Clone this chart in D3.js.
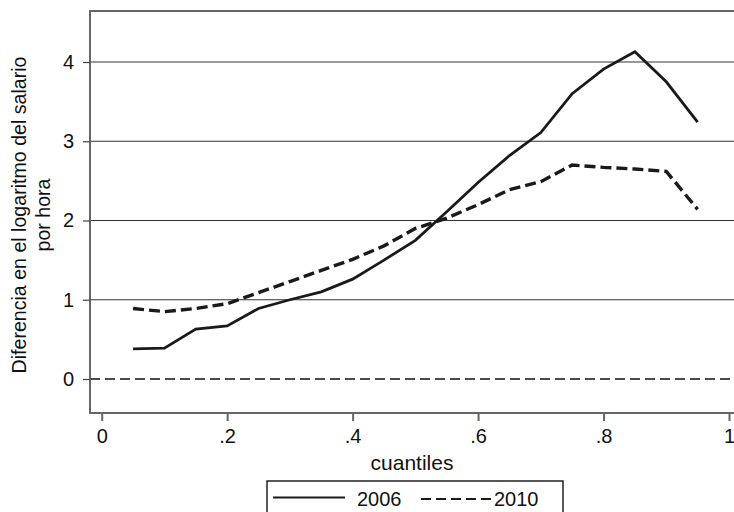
<!DOCTYPE html>
<html>
<head>
<meta charset="utf-8">
<script src="https://cdn.jsdelivr.net/npm/d3@7"></script>
<style>
  html, body { margin: 0; padding: 0; background: #fff; }
  svg { display: block; }
  text { font-family: "Liberation Sans", Arial, Helvetica, sans-serif; fill: #111; }
</style>
</head>
<body>
<svg id="chart" width="734" height="512"></svg>
<script>
// Quantiles on the horizontal axis
const quantiles = [0.05, 0.10, 0.15, 0.20, 0.25, 0.30, 0.35, 0.40, 0.45, 0.50,
                   0.55, 0.60, 0.65, 0.70, 0.75, 0.80, 0.85, 0.90, 0.95];
// Difference in log hourly wage, by year
const diff2006 = [0.38, 0.39, 0.63, 0.67, 0.89, 1.00, 1.10, 1.26, 1.50, 1.75,
                  2.11, 2.48, 2.82, 3.11, 3.60, 3.91, 4.13, 3.75, 3.24];
const diff2010 = [0.89, 0.85, 0.89, 0.95, 1.09, 1.23, 1.37, 1.51, 1.68, 1.90,
                  2.03, 2.20, 2.39, 2.49, 2.70, 2.67, 2.65, 2.62, 2.14];
const xTicks = [0, 0.2, 0.4, 0.6, 0.8, 1];
const xTickLabels = ["0", ".2", ".4", ".6", ".8", "1"];
const yTicks = [0, 1, 2, 3, 4];
const yLabelLines = ["Diferencia en el logaritmo del salario", "por hora"];
const xLabel = "cuantiles";
const legendLabels = ["2006", "2010"];

const svg = d3.select("#chart");

const frame = { left: 90, top: 11, right: 745, bottom: 413 };
const x = d3.scaleLinear().domain([0, 1]).range([101.7, 729]);
const y = d3.scaleLinear().domain([0, 4]).range([379, 62]);

// Horizontal grid lines
svg.append("g")
  .selectAll("line")
  .data(yTicks.filter(d => d !== 0))
  .join("line")
  .attr("x1", frame.left).attr("x2", frame.right)
  .attr("y1", d => y(d)).attr("y2", d => y(d))
  .attr("stroke", "#333").attr("stroke-width", 1.2);

// Zero reference line
svg.append("line")
  .attr("x1", frame.left).attr("x2", frame.right)
  .attr("y1", y(0)).attr("y2", y(0))
  .attr("stroke", "#111").attr("stroke-width", 1.3)
  .attr("stroke-dasharray", "10,5");

// Plot frame (top edge, left axis, bottom axis)
svg.append("path")
  .attr("d", `M${frame.right},${frame.top}H${frame.left}V${frame.bottom}H${frame.right}`)
  .attr("fill", "none").attr("stroke", "#666").attr("stroke-width", 2);

// Y axis
const yAxis = svg.append("g")
  .attr("transform", `translate(${frame.left},0)`)
  .call(d3.axisLeft(y).tickValues(yTicks).tickFormat(d3.format("d")).tickSize(7).tickPadding(9));
yAxis.select(".domain").remove();
yAxis.selectAll(".tick line").attr("stroke", "#444").attr("stroke-width", 1.2);
yAxis.selectAll(".tick text")
  .attr("font-size", 20).attr("font-family", "Liberation Sans, Arial, sans-serif")
  .attr("fill", "#111");

// X axis
const xAxis = svg.append("g")
  .attr("transform", `translate(0,${frame.bottom + 1})`)
  .call(d3.axisBottom(x).tickValues(xTicks).tickFormat((d, i) => xTickLabels[i]).tickSize(7).tickPadding(8));
xAxis.select(".domain").remove();
xAxis.selectAll(".tick line").attr("stroke", "#666").attr("stroke-width", 2);
xAxis.selectAll(".tick text")
  .attr("font-size", 20).attr("font-family", "Liberation Sans, Arial, sans-serif")
  .attr("fill", "#111");

// Axis titles
svg.append("text")
  .attr("x", 412).attr("y", 470)
  .attr("text-anchor", "middle").attr("font-size", 21)
  .text(xLabel);

const yTitle = svg.append("text")
  .attr("transform", "translate(0,215) rotate(-90)")
  .attr("text-anchor", "middle").attr("font-size", 19.6);
yTitle.selectAll("tspan")
  .data(yLabelLines)
  .join("tspan")
  .attr("x", 0)
  .attr("y", (d, i) => 26 + i * 24)
  .text(d => d);

// Series lines
const line = d3.line()
  .x((d, i) => x(quantiles[i]))
  .y(d => y(d));

svg.append("path")
  .datum(diff2010)
  .attr("d", line)
  .attr("fill", "none").attr("stroke", "#1a1a1a").attr("stroke-width", 3.4)
  .attr("stroke-dasharray", "11,5");

svg.append("path")
  .datum(diff2006)
  .attr("d", line)
  .attr("fill", "none").attr("stroke", "#1a1a1a").attr("stroke-width", 2.8)
  .attr("stroke-linejoin", "miter");

// Legend
const legend = svg.append("g");
legend.append("rect")
  .attr("x", 267).attr("y", 481).attr("width", 296).attr("height", 50)
  .attr("fill", "#fff").attr("stroke", "#222").attr("stroke-width", 1.5);
legend.append("line")
  .attr("x1", 273).attr("x2", 345).attr("y1", 497.5).attr("y2", 497.5)
  .attr("stroke", "#1a1a1a").attr("stroke-width", 2.2);
legend.append("text")
  .attr("x", 357).attr("y", 506).attr("font-size", 20)
  .text(legendLabels[0]);
legend.append("line")
  .attr("x1", 421).attr("x2", 492).attr("y1", 499).attr("y2", 499)
  .attr("stroke", "#1a1a1a").attr("stroke-width", 2.2)
  .attr("stroke-dasharray", "10,5");
legend.append("text")
  .attr("x", 494).attr("y", 506).attr("font-size", 20)
  .text(legendLabels[1]);
</script>
</body>
</html>
